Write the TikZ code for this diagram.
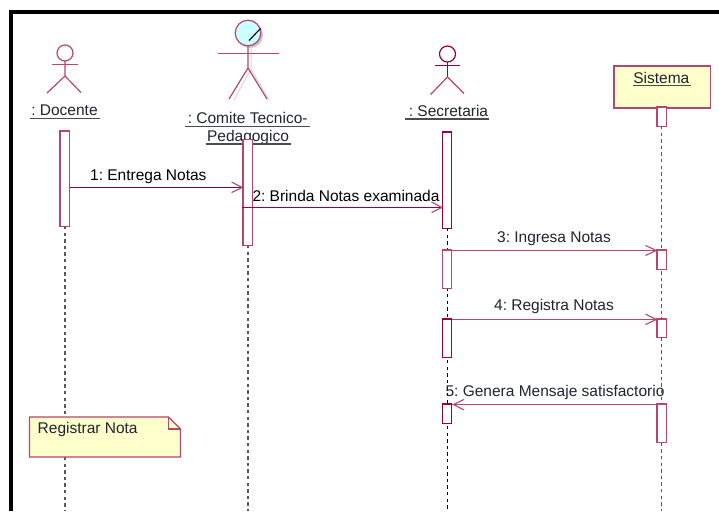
\documentclass[tikz,border=0pt]{standalone}
\usepackage{fontspec}
\setmainfont{Liberation Sans}
\definecolor{umlred}{HTML}{990033}
\definecolor{umlsoft}{HTML}{B8456E}
\definecolor{notefill}{HTML}{FFFFCC}
\definecolor{headfill}{HTML}{CCFFFF}
\definecolor{txt}{HTML}{1E2630}
\tikzset{
  txtlabel/.style={inner sep=0pt,anchor=base,text=txt,font=\fontsize{15.5}{18}\selectfont},
  bar/.style={draw=#1,fill=white,line width=1.2pt,rectangle},
  bar/.default=umlred,
  lifeline/.style={draw=#1,line width=1.1pt,dash pattern=on 3.4pt off 3.2pt},
  actorline/.style={draw=#1,line width=1.2pt},
  ul/.style={draw=#1,line width=1.2pt},
  msg/.style={draw=#1,line width=1.2pt},
  vhead/.style={draw=#1,line width=1.1pt}
}
\newcommand{\actbar}[6][umlred]{%
  \node[bar=#1,minimum width=#4 pt-#3 pt+1.2pt,minimum height=#6 pt-#5 pt+1.2pt,inner sep=0pt,anchor=center] (#2) at ({(#3+#4)/2},{(#5+#6)/2}) {};}
\frenchspacing
\begin{document}
\begin{tikzpicture}[x=1pt,y=-1pt]
\useasboundingbox (0,0) rectangle (719,511);
\fill[white] (0,0) rectangle (719,511);
% frame
\fill[black] (9,10) rectangle (719,14.5);
\fill[black] (9,10) rectangle (13,511);

% lifelines
\coordinate (endA) at (65,511);
\coordinate (endB) at (248,511);
\coordinate (endC) at (447.5,511);
\coordinate (endD) at (661.5,511);
\coordinate (topA) at (65,226);
\coordinate (topB) at (248,245);
\coordinate (topC) at (447.5,228);
\coordinate (topD) at (661.5,126);
\draw[lifeline={black!65}] (topA) -- (endA);
\draw[lifeline={black!65}] (topB) -- (endB);
\draw[lifeline={black}] (topC) -- (endC);
\draw[lifeline={black!65}] (topD) -- (endD);

% Docente actor
\begin{scope}[shift={(65,53)}]
\draw[actorline=umlsoft] (0,0) circle (8);
\draw[actorline=umlsoft] (-13,11.5) -- (12.5,11.5);
\draw[actorline=umlsoft] (0,8) -- (0,23) (-18,40) -- (0,23) -- (16,39.5);
\end{scope}
\node[txtlabel] (lblA) at (64.5,115) {: Docente};
\coordinate (ulA1) at (29.5,118.2); \coordinate (ulA2) at (99.5,118.2);
\draw[ul=black!70] (ulA1) -- (ulA2);

% Comite actor
\begin{scope}[shift={(248,33)}]
\draw[line width=1pt,draw=black!15] (3,13) -- (3,36) (-14,67) -- (3,36) -- (21,67);
\fill[black!22] (2,2) circle (13);
\draw[actorline=umlsoft,fill=headfill] (0,0) circle (12.8);
\draw[black,line width=1.1pt] (1,7.5) -- (12.5,-4.5);
\draw[actorline=umlsoft] (-30,20.5) -- (31,20.5);
\draw[actorline=umlsoft] (0,13) -- (0,35) (-19,66) -- (0,35) -- (19,66);
\end{scope}
\node[txtlabel] (lblB1) at (247.7,123.5) {: Comite Tecnico-};
\node[txtlabel] (lblB2) at (248,141) {Pedagogico};
\coordinate (ulB1) at (185,126.2); \coordinate (ulB2) at (310,126.2);
\coordinate (ulB3) at (205.5,144); \coordinate (ulB4) at (290.5,144);
\draw[ul=black!70] (ulB1) -- (ulB2);
\draw[ul=black!70] (ulB3) -- (ulB4);

% Secretaria actor
\begin{scope}[shift={(447.5,54)}]
\draw[actorline=umlred] (0,0) circle (8);
\draw[actorline=umlred] (-12.5,11.5) -- (12.5,11.5);
\draw[actorline=umlred] (0,8) -- (0,23);
\draw[actorline=umlsoft] (-17,40.5) -- (0,23) -- (16.5,39.5);
\end{scope}
\node[txtlabel] (lblC) at (448.5,116.5) {: Secretaria};
\coordinate (ulC1) at (405,119); \coordinate (ulC2) at (489,119);
\draw[ul=black!70] (ulC1) -- (ulC2);

% Sistema object
\node[draw=umlsoft,fill=notefill,line width=1.2pt,minimum width=96.4pt,minimum height=42pt,inner sep=0pt,anchor=north west] (sis) at (613.3,65.3) {};
\node[txtlabel] (lblD) at (661.3,83) {Sistema};
\coordinate (ulD1) at (632.5,85.8); \coordinate (ulD2) at (690.5,85.8);
\draw[ul=black!70] (ulD1) -- (ulD2);

% activation bars
\actbar[umlsoft]{a1}{60.5}{68.5}{131.5}{225.5}
\actbar[umlsoft]{b1}{243.5}{251.5}{140}{244.5}
\actbar[umlred]{c1}{443}{451}{132.5}{227.5}
\actbar[umlsoft]{c2}{443}{451}{250.5}{287.5}
\actbar[umlred]{c3}{443}{451}{319.5}{356.5}
\actbar[umlred]{c4}{443}{451}{404.5}{422.5}
\actbar[umlsoft]{d0}{657.5}{666}{107.5}{126}
\actbar[umlsoft]{d1}{657.5}{666}{250.5}{268.5}
\actbar[umlsoft]{d2}{657.5}{666}{319.5}{337}
\actbar[umlsoft]{d3}{657.5}{666}{404.5}{442}

% messages
\draw[msg=umlred] (a1.east |- 0,187.5) coordinate (m1a) -- (b1.west |- 0,187.5) coordinate (m1b);
\draw[vhead=umlsoft] (231.5,182) -- (m1b) -- (231.5,192.5);
\node[txtlabel,text=black] (m1) at (148.3,180) {1: Entrega Notas};

\draw[msg=umlred] (b1.west |- 0,207.5) coordinate (m2a) -- (c1.west |- 0,207.5) coordinate (m2b);
\draw[vhead=umlsoft] (431.5,202) -- (m2b) -- (431.5,212.5);
\node[txtlabel,text=black] (m2) at (346,201) {2: Brinda Notas examinada};

\draw[msg=umlsoft] (c2.east |- 0,250.5) coordinate (m3a) -- (d1.west |- 0,250.5) coordinate (m3b);
\draw[vhead=umlsoft] (645.5,245.5) -- (m3b) -- (645.5,255.5);
\node[txtlabel] (m3) at (554,242) {3: Ingresa Notas};

\draw[msg=umlsoft] (c3.east |- 0,319.5) coordinate (m4a) -- (d2.west |- 0,319.5) coordinate (m4b);
\draw[vhead=umlsoft] (645.5,314) -- (m4b) -- (645.5,324.5);
\node[txtlabel] (m4) at (554,310.5) {4: Registra Notas};

\draw[msg=umlsoft] (d3.west |- 0,404.5) coordinate (m5a) -- (c4.east |- 0,404.5) coordinate (m5b);
\draw[vhead=umlsoft] (464,399.5) -- (453.5,404.5) -- (464,410);
\node[txtlabel] (m5) at (555,396) {5: Genera Mensaje satisfactorio};

% note
\draw[draw=umlsoft,fill=notefill,line width=1.2pt] (29.5,417) -- (168.5,417) -- (180.5,429) -- (180.5,457) -- (29.5,457) -- cycle;
\draw[draw=umlsoft,line width=1.2pt] (168.5,417) -- (168.5,429) -- (180.5,429);
\node[txtlabel,anchor=base west] (note) at (37.5,433) {Registrar Nota};
\end{tikzpicture}
\end{document}
